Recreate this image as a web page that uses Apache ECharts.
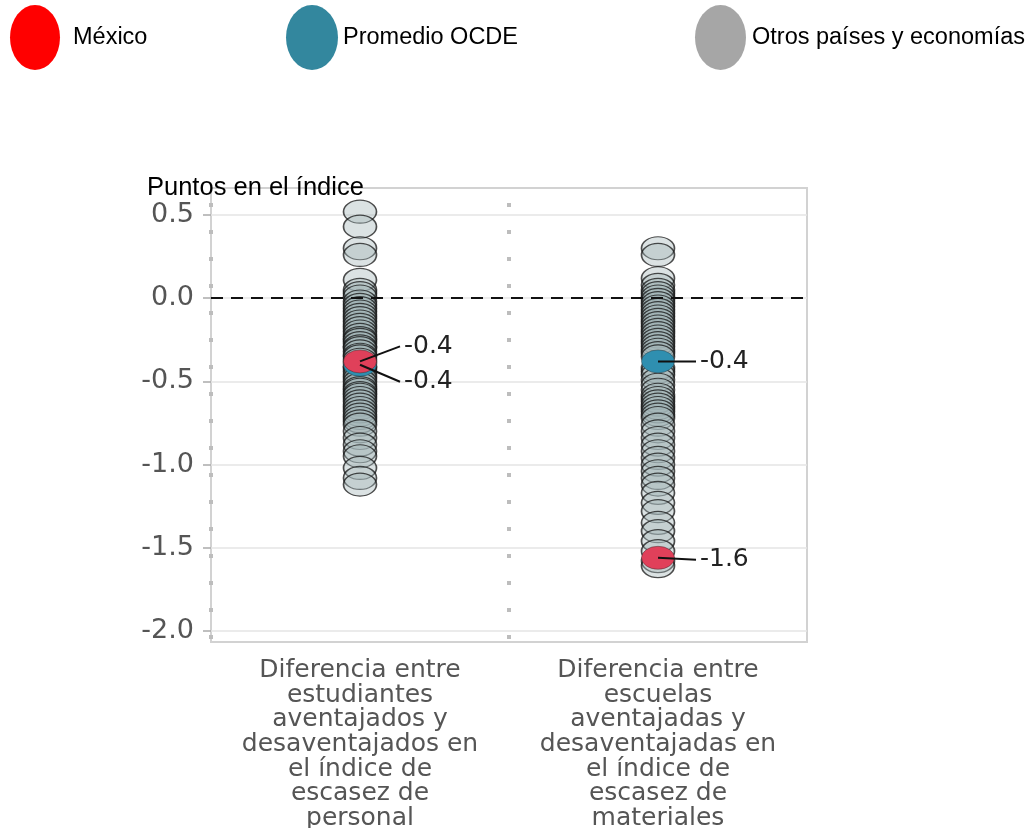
<!DOCTYPE html>
<html>
<head>
<meta charset="utf-8">
<script src="https://cdn.jsdelivr.net/npm/echarts@6/dist/echarts.min.js"></script>
<style>
html,body{margin:0;padding:0;background:#fff;}
#chart{width:1035px;height:828px;}
</style>
</head>
<body>
<div id="chart"></div>
<script>
// ---- Data ----
const categories = [
  'Diferencia entre\nestudiantes\naventajados y\ndesaventajados en\nel índice de\nescasez de\npersonal',
  'Diferencia entre\nescuelas\naventajadas y\ndesaventajadas en\nel índice de\nescasez de\nmateriales'
];
const seriesNames = ['México', 'Promedio OCDE', 'Otros países y economías'];
const otrosPersonal = [0.52, 0.43, 0.30, 0.26, 0.11, 0.05, 0.03, 0.01, -0.02, -0.04, -0.06, -0.08, -0.10,
  -0.12, -0.14, -0.16, -0.18, -0.20, -0.22, -0.24, -0.25, -0.27, -0.29, -0.30, -0.32, -0.34, -0.35,
  -0.37, -0.39, -0.41, -0.42, -0.44, -0.46, -0.48, -0.50, -0.52, -0.54, -0.55, -0.57, -0.58, -0.60,
  -0.62, -0.64, -0.66, -0.68, -0.70, -0.72, -0.74, -0.76, -0.80, -0.84, -0.88, -0.92, -0.95, -1.02,
  -1.08, -1.12];
const otrosMateriales = [0.30, 0.26, 0.12, 0.08, 0.05, 0.03, 0.01, -0.01, -0.03, -0.05, -0.07, -0.09,
  -0.11, -0.13, -0.15, -0.17, -0.19, -0.21, -0.23, -0.25, -0.27, -0.29, -0.31, -0.33, -0.35, -0.42,
  -0.44, -0.46, -0.49, -0.52, -0.55, -0.58, -0.60, -0.62, -0.64, -0.66, -0.68, -0.70, -0.72, -0.76,
  -0.80, -0.84, -0.88, -0.92, -0.96, -1.00, -1.04, -1.08, -1.12, -1.17, -1.23, -1.28, -1.35, -1.40,
  -1.46, -1.52, -1.58, -1.61];
const mexico = [-0.38, -1.56];
const ocde = [-0.40, -0.38];
const yMin = -2.0, yMax = 0.5, yInterval = 0.5;

// ---- Styles ----
const ELLIPSE = 'path://M0,10 A10,10 0 1,1 20,10 A10,10 0 1,1 0,10 Z';
const GRAY_FONT = 'DejaVu Sans';
const BLACK_FONT = 'Liberation Sans, Arial, sans-serif';
// callout offsets (pixels) per category: [mexico, ocde]
const calloutOffsets = [
  [[40, -15], [40, 17]],
  [[38, 2], [38, 0]]
];

const toPts = (arr, idx) => arr.map(v => [idx, v]);
const otrosData = toPts(otrosPersonal, 0).concat(toPts(otrosMateriales, 1));
const mexData = mexico.map((v, i) => [i, v]);
const ocdeData = ocde.map((v, i) => [i, v]);
const calloutData = [];
mexico.forEach((v, i) => calloutData.push([i, v, 0]));
ocde.forEach((v, i) => calloutData.push([i, v, 1]));

const chart = echarts.init(document.getElementById('chart'), null, {renderer: 'canvas'});

function legendFor(name, color, left, width, pad) {
  return {
    left: left, top: 5, padding: 0, orient: 'horizontal',
    itemWidth: width, itemHeight: 65, selectedMode: false, symbolKeepAspect: false,
    data: [{name: name, icon: ELLIPSE, itemStyle: {color: color, borderWidth: 0, opacity: 1}}],
    textStyle: {fontFamily: BLACK_FONT, fontSize: 23.5, color: '#000', padding: [0, 0, 0, pad]}
  };
}

const option = {
  backgroundColor: '#fff',
  animation: false,
  title: {
    text: 'Puntos en el índice', left: 147, top: 175, padding: 0,
    textStyle: {fontFamily: BLACK_FONT, fontSize: 25.5, fontWeight: 'normal', color: '#000'}
  },
  legend: [
    legendFor(seriesNames[0], '#FF0000', 10, 50, 8),
    legendFor(seriesNames[1], '#33879E', 286, 52, 0),
    legendFor(seriesNames[2], '#A6A6A6', 695, 51, 1)
  ],
  grid: [
    {left: 211, right: 228, top: 215, bottom: 197, containLabel: false, outerBoundsMode: 'none'},
    {left: 211, right: 228, top: 188, bottom: 186, containLabel: false, outerBoundsMode: 'none',
     show: true, borderColor: '#d2d2d2', borderWidth: 2, backgroundColor: 'transparent'}
  ],
  xAxis: [
    {
      type: 'category', gridIndex: 0, data: categories, boundaryGap: true,
      axisLine: {show: false}, axisTick: {show: false}, splitLine: {show: false},
      axisLabel: {fontFamily: GRAY_FONT, fontSize: 25, lineHeight: 24.7, color: '#555', margin: 27, interval: 0}
    },
    {
      type: 'value', gridIndex: 1, min: 0, max: 2, interval: 1,
      axisLine: {show: false}, axisTick: {show: false}, axisLabel: {show: false},
      splitLine: {show: true, showMaxLine: false, lineStyle: {color: '#bdbdbd', width: 4, type: [4, 23], dashOffset: 12}}
    }
  ],
  yAxis: [
    {
      type: 'value', gridIndex: 0, min: yMin, max: yMax, interval: yInterval,
      axisLine: {show: false},
      axisTick: {show: true, length: 8, lineStyle: {color: '#aaa', width: 1.5}},
      axisLabel: {fontFamily: GRAY_FONT, fontSize: 27, color: '#555', margin: 17, formatter: v => v.toFixed(1)},
      splitLine: {show: true, lineStyle: {color: '#e4e4e4', width: 1.5}}
    },
    {
      type: 'value', gridIndex: 1, min: 0, max: 1, show: false,
      splitLine: {show: false}
    }
  ],
  series: [
    {
      name: seriesNames[2], type: 'scatter', xAxisIndex: 0, yAxisIndex: 0, clip: false,
      symbol: ELLIPSE, symbolSize: [33, 23], data: otrosData, z: 2,
      itemStyle: {opacity: 1, color: 'rgba(160,178,182,0.38)', borderColor: 'rgba(20,20,20,0.75)', borderWidth: 1.4},
      emphasis: {disabled: true},
      markLine: {
        silent: true, symbol: 'none', label: {show: false},
        lineStyle: {color: '#111', type: [12, 8], width: 2},
        data: [{yAxis: 0}]
      }
    },
    {
      name: seriesNames[1], type: 'scatter', xAxisIndex: 0, yAxisIndex: 0, clip: false,
      symbol: ELLIPSE, symbolSize: [33, 23], data: ocdeData, z: 3,
      itemStyle: {opacity: 1, color: '#2F8FB0', borderColor: 'rgba(40,40,40,0.5)', borderWidth: 0.8},
      emphasis: {disabled: true}
    },
    {
      name: seriesNames[0], type: 'scatter', xAxisIndex: 0, yAxisIndex: 0, clip: false,
      symbol: ELLIPSE, symbolSize: [33, 23], data: mexData, z: 4,
      itemStyle: {opacity: 1, color: '#E0405A', borderColor: 'rgba(40,40,40,0.5)', borderWidth: 0.8},
      emphasis: {disabled: true}
    },
    {
      type: 'custom', xAxisIndex: 0, yAxisIndex: 0, z: 5, silent: true, clip: false,
      data: calloutData,
      renderItem: function (params, api) {
        const cat = api.value(0), val = api.value(1), kind = api.value(2);
        const p = api.coord([cat, val]);
        const off = calloutOffsets[cat][kind];
        const ex = p[0] + off[0], ey = p[1] + off[1];
        return {
          type: 'group',
          children: [
            {type: 'line', shape: {x1: p[0], y1: p[1], x2: ex, y2: ey}, style: {stroke: '#111', lineWidth: 2}},
            {type: 'text', x: ex + 4, y: ey, style: {text: val.toFixed(1), fill: '#222', font: '25px "DejaVu Sans"', textAlign: 'left', textVerticalAlign: 'middle'}}
          ]
        };
      }
    }
  ]
};
chart.setOption(option);
</script>
</body>
</html>
